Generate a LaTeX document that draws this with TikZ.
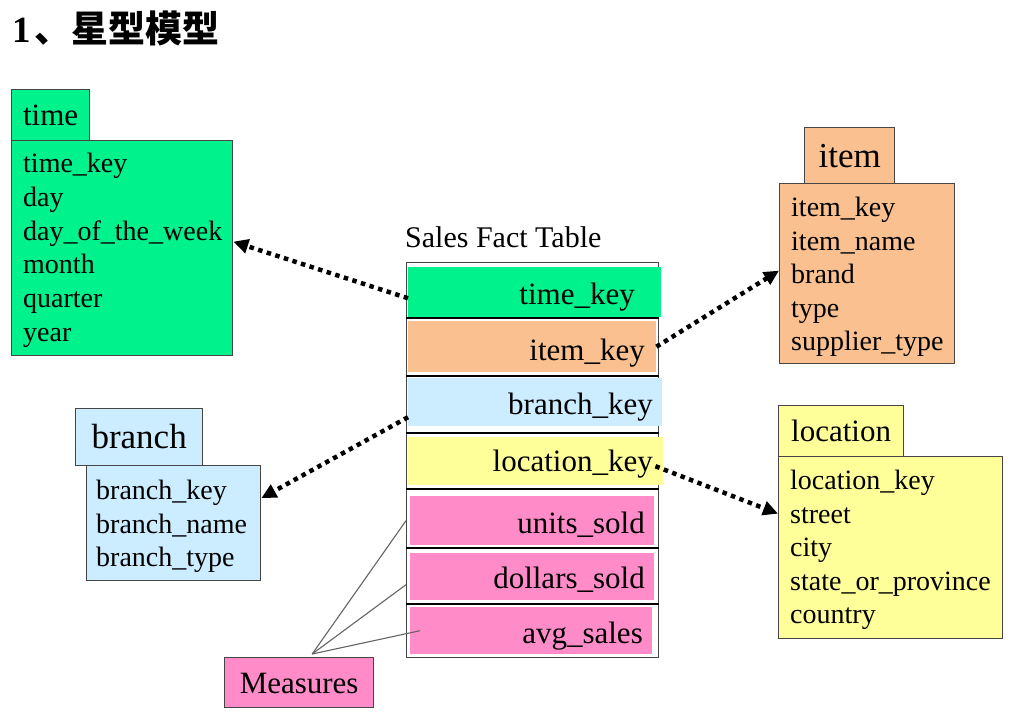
\documentclass[tikz,border=0pt]{standalone}
\usepackage{fontspec}
\setmainfont{Liberation Serif}
\newfontfamily\cjk{Noto Sans CJK SC}
\usetikzlibrary{arrows.meta,calc}
\definecolor{cgreen}{RGB}{0,242,140}
\definecolor{corange}{RGB}{250,192,144}
\definecolor{cblue}{RGB}{204,236,255}
\definecolor{cyellow}{RGB}{255,255,153}
\definecolor{cpink}{RGB}{255,140,200}
\definecolor{cborder}{RGB}{70,70,70}
\definecolor{cline}{RGB}{100,100,100}
\begin{document}
\begin{tikzpicture}[x=1pt,y=-1pt,
  dimbox/.style={draw=cborder,line width=1.3pt,inner sep=0pt,anchor=north west},
  headtxt/.style={font=\fontsize{31}{34}\selectfont,text height=27pt,text depth=6pt},
  bigheadtxt/.style={font=\fontsize{35}{38}\selectfont,text height=30pt,text depth=7pt},
  fieldtxt/.style={font=\fontsize{28}{34}\selectfont,inner sep=0pt,anchor=west,text height=25pt,text depth=6pt},
  rowfill/.style={inner sep=0pt,anchor=north west,draw=none},
  rowtxt/.style={font=\fontsize{31}{34}\selectfont,inner sep=0pt,anchor=east,text height=27pt,text depth=6pt},
  sepline/.style={draw=black,line width=2pt},
  dotarrow/.style={line width=4.5pt,dash pattern=on 4.5pt off 4.5pt,-{Triangle[length=15pt,width=14pt]}},
  measline/.style={draw=cline,line width=1.1pt}]
\useasboundingbox (0,0) rectangle (1030,718);

% title
\node[anchor=west,inner sep=0pt] (title) at (12,28) {\fontsize{37}{40}\selectfont\textbf{1}\hspace{4pt}{\cjk\bfseries 、星型模型}};

% time table
\node[dimbox,fill=cgreen,minimum width=78pt,minimum height=51pt,headtxt] (timehead) at (11,89) {time};
\node[dimbox,fill=cgreen,minimum width=221pt,minimum height=215pt] (timebody) at (11,140) {};
\foreach \t [count=\i] in {time\_key,day,day\_of\_the\_week,month,quarter,year}
  \node[fieldtxt] (tf\i) at (23,{163+33.8*(\i-1)}) {\t};

% item table
\node[dimbox,fill=corange,minimum width=90pt,minimum height=56pt,bigheadtxt] (itemhead) at (804,127) {item};
\node[dimbox,fill=corange,minimum width=175pt,minimum height=180pt] (itembody) at (779,183) {};
\foreach \t [count=\i] in {item\_key,item\_name,brand,type,supplier\_type}
  \node[fieldtxt] (if\i) at (791,{207+33.5*(\i-1)}) {\t};

% location table
\node[dimbox,fill=cyellow,minimum width=125pt,minimum height=51pt,headtxt] (lochead) at (778,405) {location};
\node[dimbox,fill=cyellow,minimum width=224pt,minimum height=182pt] (locbody) at (778,456) {};
\foreach \t [count=\i] in {location\_key,street,city,state\_or\_province,country}
  \node[fieldtxt] (lf\i) at (790,{480+33.6*(\i-1)}) {\t};

% branch table
\node[dimbox,fill=cblue,minimum width=127pt,minimum height=57pt,bigheadtxt] (branchhead) at (75,408) {branch};
\node[dimbox,fill=cblue,minimum width=174pt,minimum height=115pt] (branchbody) at (86,465) {};
\foreach \t [count=\i] in {branch\_key,branch\_name,branch\_type}
  \node[fieldtxt] (bf\i) at (96,{490+33.5*(\i-1)}) {\t};

% fact table
\node[anchor=west,inner sep=0pt,font=\fontsize{30}{34}\selectfont] (facttitle) at (405,237) {Sales Fact Table};
\node[draw=cborder,line width=1.2pt,inner sep=0pt,minimum width=252pt,minimum height=395pt,anchor=north west] (fact) at (406,262) {};
\node[rowfill,fill=cgreen,minimum width=253pt,minimum height=50pt] (r1) at (408,267) {};
\node[rowfill,fill=corange,minimum width=248pt,minimum height=51pt] (r2) at (408,321) {};
\node[rowfill,fill=cblue,minimum width=254pt,minimum height=48pt] (r3) at (408,378) {};
\node[rowfill,fill=cyellow,minimum width=255pt,minimum height=48pt] (r4) at (408,437) {};
\node[rowfill,fill=cpink,minimum width=244pt,minimum height=49pt] (r5) at (410,496) {};
\node[rowfill,fill=cpink,minimum width=244pt,minimum height=47pt] (r6) at (410,553) {};
\node[rowfill,fill=cpink,minimum width=242pt,minimum height=47pt] (r7) at (410,607) {};
\foreach \yy in {318,376,433,489,548,604}
  \draw[sepline] (fact.west |- 0,\yy) -- (fact.east |- 0,\yy);
\node[rowtxt] (rt1) at (635,294) {time\_key};
\node[rowtxt] (rt2) at (645,350) {item\_key};
\node[rowtxt] (rt3) at (653,404) {branch\_key};
\node[rowtxt] (rt4) at (653,461) {location\_key};
\node[rowtxt] (rt5) at (645,523) {units\_sold};
\node[rowtxt] (rt6) at (645,578) {dollars\_sold};
\node[rowtxt] (rt7) at (643,633) {avg\_sales};

% measures
\node[dimbox,fill=cpink,minimum width=149pt,minimum height=50pt,headtxt] (meas) at (224,657) {Measures};
\coordinate (mtop) at ([xshift=13pt,yshift=3pt]meas.north);
\draw[measline] (mtop) -- (fact.west |- r5.west);
\draw[measline] (mtop) -- ([yshift=-8pt]fact.west |- r6.west);
\draw[measline] (mtop) -- ([xshift=10pt]r7.west);

% dotted arrows
\draw[dotarrow] ([yshift=-6pt]r1.west) -- ([yshift=6.5pt]timebody.east);
\draw[dotarrow] (r2.east) -- ([yshift=3pt]itembody.west);
\draw[dotarrow] ([yshift=-15pt]r3.west) -- ([yshift=25pt]branchbody.east);
\draw[dotarrow] ([xshift=-8pt,yshift=-5pt]r4.east) -- ([yshift=34pt]locbody.west);
\end{tikzpicture}
\end{document}
